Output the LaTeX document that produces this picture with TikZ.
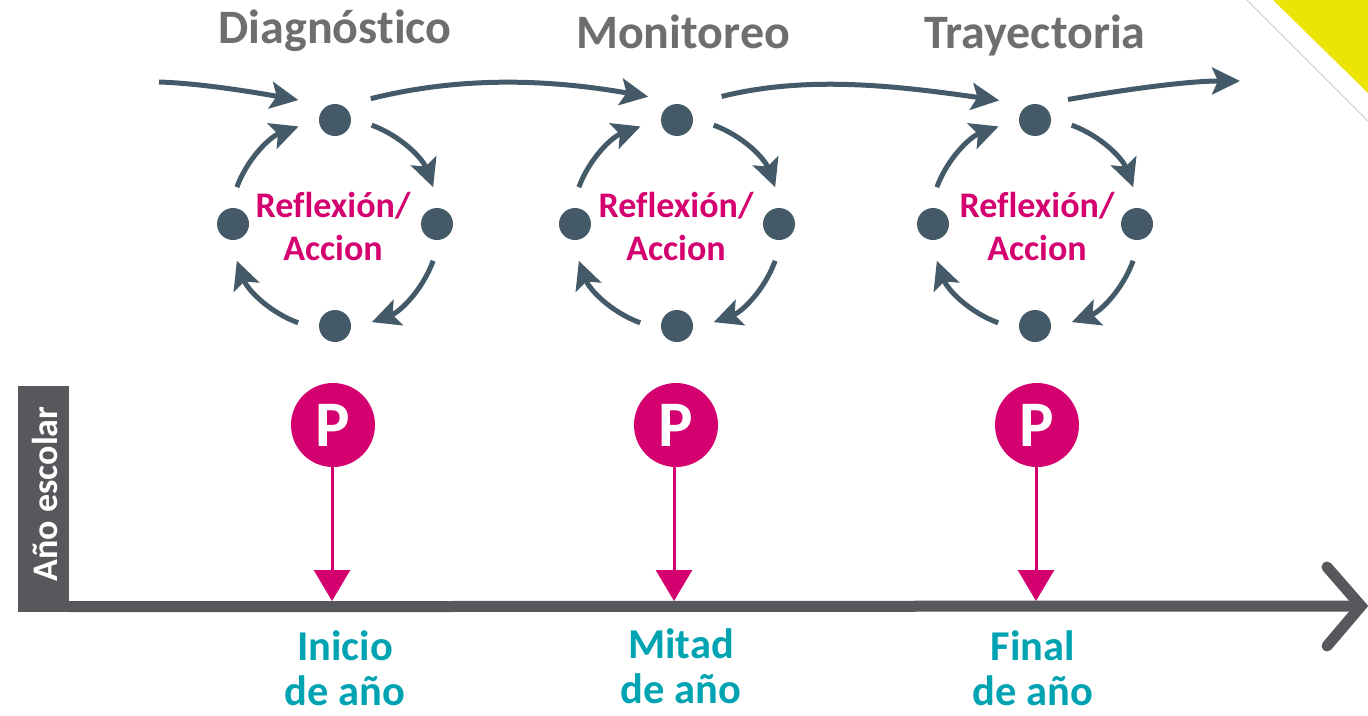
\documentclass[tikz,border=0pt]{standalone}
\usepackage{fontspec}
\setmainfont[Ligatures=NoCommon]{Carlito}
\usepackage{xcolor}
\usetikzlibrary{arrows.meta,calc}
\definecolor{slate}{HTML}{455A68}
\definecolor{magentap}{HTML}{D4006F}
\definecolor{tealt}{HTML}{00A3B2}
\definecolor{barg}{HTML}{58575B}
\definecolor{titleg}{HTML}{6F6D6E}
\definecolor{cornery}{HTML}{EBE406}

\begin{document}
\begin{tikzpicture}[x=1pt, y=-1pt, >=Latex]
\tikzstyle{dot}=[circle, fill=slate, minimum size=32pt, inner sep=0pt, outer sep=21pt]
\tikzstyle{loopar}=[-{Stealth[length=28pt, width=27pt, inset=6pt]}, line width=5pt, draw=slate]
\tikzstyle{title}=[text=titleg, font=\fontsize{48}{56}\selectfont\bfseries]
\tikzstyle{mid}=[text=magentap, align=center, font=\fontsize{36}{43}\selectfont\bfseries]
\tikzstyle{pin}=[circle, fill=magentap, text=white, minimum size=84pt, inner sep=0pt,
                 font=\fontsize{65}{65}\selectfont\bfseries]
\tikzstyle{pinar}=[-{Triangle[length=31pt, width=36pt]}, line width=3pt, draw=magentap]
\tikzstyle{when}=[text=tealt, align=center, inner sep=0pt, font=\fontsize{42.5}{45}\selectfont\bfseries]
\tikzstyle{axisl}=[line width=11pt, draw=barg]

\useasboundingbox (0,0) rectangle (1368,715);

\fill[cornery] (1273,0) -- (1368,0) -- (1368,93) -- cycle;
\draw[line width=1pt, draw=black!20] (1247,0) -- (1368,121);

\node[title] (diag) at (335,31) {Diagnóstico};
\node[title] (moni) at (683,32) {Monitoreo};
\node[title] (tray) at (1035,35) {Trayectoria};

\foreach \i/\cx/\px in {1/335/333, 2/677/676, 3/1035/1037} {
  \node[dot] (top\i) at (\cx,120) {};
  \node[dot] (right\i) at (\cx+102,224) {};
  \node[dot] (bot\i) at (\cx,326) {};
  \node[dot] (left\i) at (\cx-102,224) {};
  \node[mid] (refl\i) at (\px,226) {Reflexión/\\Accion};
  \draw[loopar] (top\i.-8) to[out=-20, in=110, looseness=.9] (right\i.96);
  \draw[loopar] (right\i.-96) to[out=-110, in=20, looseness=.9] (bot\i.6);
  \draw[loopar] (bot\i.175) to[out=160, in=-70, looseness=.9] (left\i.-84);
  \draw[loopar] (left\i.84) to[out=70, in=200, looseness=.9] (top\i.190);
  \node[pin] (pin\i) at (\px,425) {P};
}

\coordinate (flowin) at (159,82);
\coordinate (flowout) at (1240,81);
\draw[loopar, shorten >=5pt] (flowin) to[out=-2, in=170, looseness=.8] (top1.149);
\draw[loopar, shorten <=5pt] (top1.33) to[out=14, in=170, looseness=.9] (top2.141);
\draw[loopar, shorten <=14pt, shorten >=4pt] (top2.33) to[out=14, in=172, looseness=.9] (top3.149);
\draw[loopar, shorten <=2pt] (top3.33) to[out=10, in=180, looseness=.8] (flowout);

\node[fill=barg, minimum width=51pt, minimum height=226pt, inner sep=0pt] (year) at (43.5,499) {};
\node[rotate=90, text=white, font=\fontsize{36}{36}\selectfont\bfseries] (yearlab) at (45,494) {Año escolar};
\coordinate (axtip) at (1361,606);
\coordinate (armup) at (1327,567);
\coordinate (armdn) at (1327,646);
\draw[axisl] ($(year.south east)+(0,-5.5)$) -- (axtip);
\draw[axisl, line cap=round] (armup) -- (axtip) -- (armdn);

\foreach \i/\ax in {1/332, 2/674, 3/1036} {
  \coordinate (tick\i) at (\ax,601);
  \draw[pinar] (tick\i |- pin\i.south) -- (tick\i);
}

\node[when] (start) at (345,668) {Inicio\\de año};
\node[when] (half) at (681,666) {Mitad\\de año};
\node[when] (end) at (1033,668) {Final\\de año};

\end{tikzpicture}
\end{document}
